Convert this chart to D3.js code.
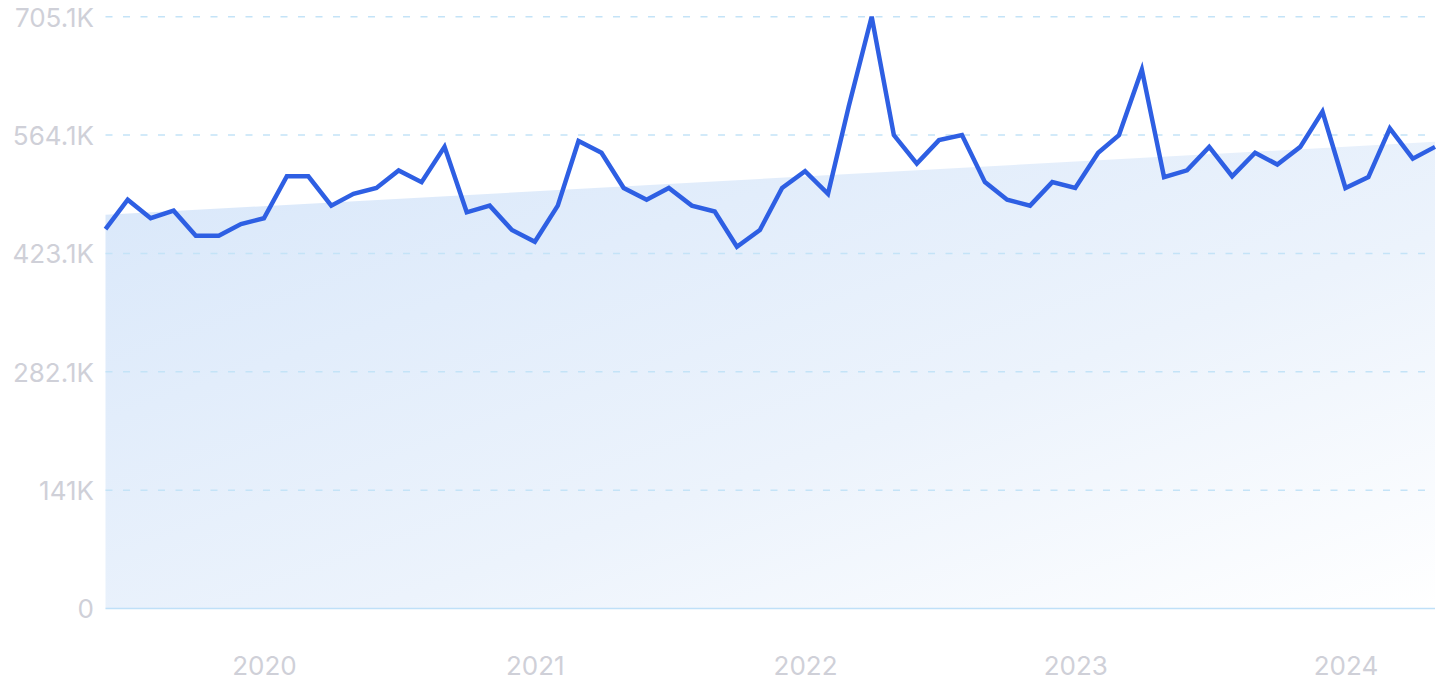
<!DOCTYPE html>
<html>
<head>
<meta charset="utf-8">
<script src="https://cdn.jsdelivr.net/npm/d3@7"></script>
<style>
  html, body { margin: 0; padding: 0; background: #fff; }
  svg { display: block; }
  .tick text { font-family: Inter, "Noto Sans", sans-serif; fill: #cfd0d8; }
</style>
</head>
<body>
<svg id="chart" width="1440" height="700"></svg>
<script>
const startMonth = "2019-06";
const values = [
  452, 487, 465, 474, 444, 444, 458, 465, 515, 515,
  480, 494, 501, 522, 508, 550, 472, 480, 451, 437,
  480, 557, 543, 501, 487, 501, 480, 473, 431, 451,
  501, 521, 494, 598, 705.1, 564.1, 530, 558, 564, 508,
  487, 480, 508, 501, 543, 564, 642, 514, 522, 550,
  515, 543, 529, 550, 592, 501, 514, 572, 536, 550
];
const trendValues = [469, 556];
const yTickValues = [0, 141000, 282100, 423100, 564100, 705100];
const yTickLabels = ["0", "141K", "282.1K", "423.1K", "564.1K", "705.1K"];
const xTickLabels = ["2020", "2021", "2022", "2023", "2024"];

const parseMonth = d3.timeParse("%Y-%m");
const startDate = parseMonth(startMonth);
const data = values.map((v, i) => ({ date: d3.timeMonth.offset(startDate, i), value: v * 1000 }));

const svg = d3.select("#chart");
const mLeft = 105.5, mRight = 1435, mTop = 16.7, mBottom = 608.5;

const x = d3.scaleTime()
  .domain(d3.extent(data, d => d.date))
  .range([mLeft, mRight]);
const y = d3.scaleLinear()
  .domain([0, 705100])
  .range([mBottom, mTop]);

// gradient
const defs = svg.append("defs");
const grad = defs.append("linearGradient")
  .attr("id", "areaGrad")
  .attr("x1", "0").attr("y1", "0").attr("x2", "1").attr("y2", "1");
grad.append("stop").attr("offset", "0").attr("stop-color", "#d8e7fa");
grad.append("stop").attr("offset", "0.6").attr("stop-color", "#ecf3fc");
grad.append("stop").attr("offset", "1").attr("stop-color", "#ffffff");

// trend area
const trendData = [
  { date: data[0].date, value: trendValues[0] * 1000 },
  { date: data[data.length - 1].date, value: trendValues[1] * 1000 }
];
const area = d3.area()
  .x(d => x(d.date))
  .y0(y(0))
  .y1(d => y(d.value));
svg.append("path")
  .datum(trendData)
  .attr("d", area)
  .attr("fill", "url(#areaGrad)");

// grid lines
const grid = svg.append("g");
grid.selectAll("line")
  .data(yTickValues.filter(v => v > 0))
  .join("line")
  .attr("x1", mLeft)
  .attr("x2", 1425)
  .attr("y1", d => y(d))
  .attr("y2", d => y(d))
  .attr("stroke", "#c4e3f7")
  .attr("stroke-width", 1.5)
  .attr("stroke-dasharray", "7,10.5");

// baseline
svg.append("line")
  .attr("x1", mLeft).attr("x2", mRight)
  .attr("y1", y(0)).attr("y2", y(0))
  .attr("stroke", "#bfe0f8")
  .attr("stroke-width", 1.5);

// y axis
const yAxis = d3.axisLeft(y)
  .tickValues(yTickValues)
  .tickFormat((d, i) => yTickLabels[i])
  .tickSize(0)
  .tickPadding(0);
const yg = svg.append("g")
  .attr("transform", `translate(94,0)`)
  .call(yAxis);
yg.select(".domain").remove();
yg.selectAll("text").attr("font-size", 26).attr("dy", "0.36em");

// x axis
const yearTicks = xTickLabels.map(s => d3.timeParse("%Y")(s));
const xAxis = d3.axisBottom(x)
  .tickValues(yearTicks)
  .tickFormat((d, i) => xTickLabels[i])
  .tickSize(0)
  .tickPadding(0);
const xg = svg.append("g")
  .attr("transform", `translate(0,657)`)
  .call(xAxis);
xg.select(".domain").remove();
xg.selectAll("text").attr("font-size", 26).attr("dy", "0.71em");

// line
const line = d3.line()
  .x(d => x(d.date))
  .y(d => y(d.value));
svg.append("path")
  .datum(data)
  .attr("d", line)
  .attr("fill", "none")
  .attr("stroke", "#2e5fe3")
  .attr("stroke-width", 4.5)
  .attr("stroke-linejoin", "miter")
  .attr("stroke-linecap", "butt");
</script>
</body>
</html>
